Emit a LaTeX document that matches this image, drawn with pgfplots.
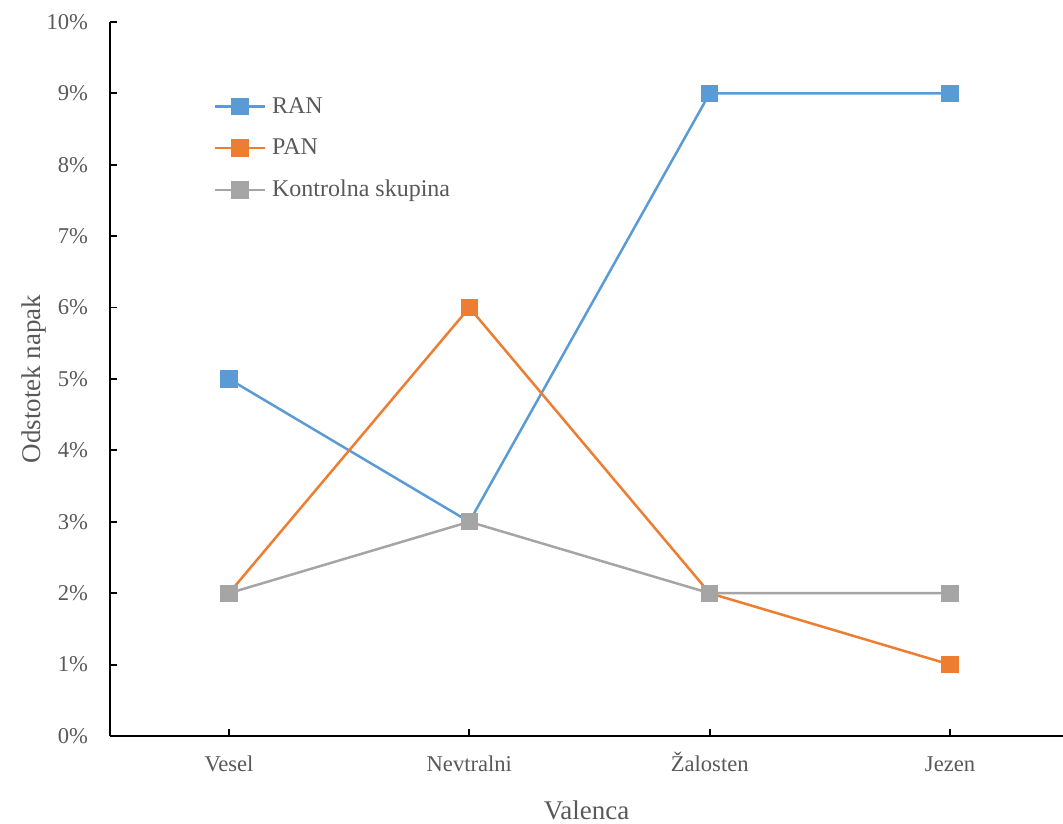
\documentclass[border=0pt]{standalone}
\usepackage{fontspec}
\setmainfont{Liberation Serif}
\usepackage{pgfplots}
\pgfplotsset{compat=1.18}

\definecolor{ranblue}{HTML}{5B9BD5}
\definecolor{panorange}{HTML}{ED7D31}
\definecolor{ctrlgray}{HTML}{A5A5A5}
\definecolor{labelgray}{HTML}{595959}

\begin{document}
\begin{tikzpicture}
\useasboundingbox (-55pt,-43.5pt) rectangle (476.5pt,368pt);
\begin{axis}[
  scale only axis,
  width=476.5pt, height=357pt,
  xmin=-0.495, xmax=3.47,
  ymin=0, ymax=10,
  axis x line=bottom, axis y line=left,
  axis line style={-, line width=1pt, black},
  tick align=inside,
  major tick length=3.5pt,
  tick style={line width=0.9pt, black},
  xtick={0,1,2,3},
  xticklabels={Vesel, Nevtralni, Žalosten, Jezen},
  ytick={0,1,...,10},
  yticklabel={\pgfmathprintnumber{\tick}\%},
  /pgf/number format/assume math mode=true,
  tick label style={text=labelgray, font=\fontsize{11.3}{13}\selectfont},
  yticklabel style={xshift=-7.5pt},
  xticklabel style={anchor=base, yshift=-17.5pt},
  xlabel={Valenca},
  ylabel={Odstotek napak},
  label style={text=labelgray, font=\fontsize{13.5}{15}\selectfont},
  xlabel style={at={(axis description cs:0.5,0)}, anchor=base, yshift=-41.5pt},
  ylabel style={at={(axis description cs:-0.08,0.5)}, anchor=center},
  legend style={draw=none, fill=none, at={(axis description cs:0.102,0.905)}, anchor=north west,
    font=\fontsize{12}{14}\selectfont, text=labelgray, row sep=8.3pt, column sep=1.5pt,
    nodes={inner sep=1.5pt}},
  legend cell align=left,
  legend image code/.code={%
    \draw[mark repeat=2, mark phase=2] plot coordinates {(0pt,0pt) (12.5pt,0pt) (25pt,0pt)};},
  every axis plot/.append style={line width=1.25pt, mark=square*, mark size=3.7pt,
    mark options={solid, line width=0.3pt}},
  clip=false,
]
\addplot[color=ranblue, mark options={fill=ranblue, draw=ranblue}] coordinates {(0,5) (1,3) (2,9) (3,9)};
\addlegendentry{RAN}
\addplot[color=panorange, mark options={fill=panorange, draw=panorange}] coordinates {(0,2) (1,6) (2,2) (3,1)};
\addlegendentry{PAN}
\addplot[color=ctrlgray, mark options={fill=ctrlgray, draw=ctrlgray}] coordinates {(0,2) (1,3) (2,2) (3,2)};
\addlegendentry{Kontrolna skupina}
\end{axis}
\end{tikzpicture}
\end{document}
